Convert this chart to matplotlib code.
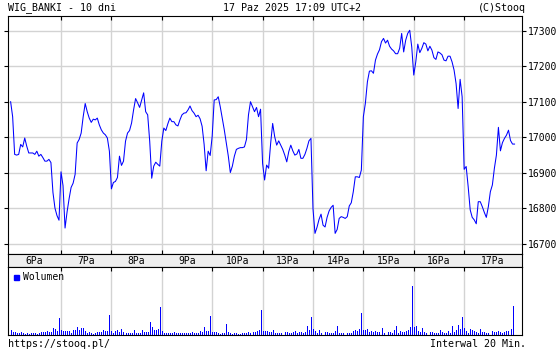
import numpy as np
import matplotlib
matplotlib.use("Agg")
import matplotlib.pyplot as plt

# notowania WIG_BANKI, interwal 20 min, po 25 punktow na sesje
p06 = [17100, 17058, 16952, 16950, 16952, 16980, 16973, 16998, 16975, 16956, 16956, 16956, 16952,
       16961, 16947, 16952, 16943, 16933, 16933, 16938, 16929, 16845, 16801, 16780, 16767]
p07 = [16903, 16864, 16745, 16790, 16827, 16859, 16871, 16896, 16984, 16994, 17012, 17058, 17095,
       17072, 17054, 17042, 17051, 17049, 17054, 17035, 17021, 17012, 17007, 16998, 16961]
p08 = [16855, 16873, 16876, 16887, 16947, 16921, 16933, 16989, 17012, 17019, 17040, 17077, 17109,
       17097, 17084, 17105, 17125, 17072, 17063, 16989, 16885, 16919, 16930, 16924, 16919]
p09 = [16989, 17026, 17019, 17038, 17054, 17044, 17044, 17035, 17032, 17049, 17063, 17068, 17069,
       17077, 17088, 17075, 17068, 17058, 17062, 17052, 17031, 16980, 16906, 16961, 16949]
p10 = [17003, 17105, 17106, 17114, 17086, 17054, 17021, 16984, 16947, 16901, 16919, 16947, 16966,
       16969, 16971, 16971, 16973, 16994, 17063, 17100, 17086, 17072, 17084, 17058, 17079]
p13 = [16927, 16880, 16922, 16913, 16983, 17039, 17002, 16978, 16990, 16978, 16966, 16950, 16931,
       16960, 16978, 16962, 16950, 16953, 16966, 16941, 16941, 16952, 16969, 16990, 16997]
p14 = [16800, 16730, 16747, 16769, 16784, 16753, 16748, 16775, 16793, 16803, 16809, 16730, 16741,
       16772, 16777, 16775, 16772, 16777, 16807, 16816, 16847, 16889, 16889, 16887, 16908]
p15 = [17058, 17096, 17156, 17186, 17187, 17180, 17217, 17234, 17246, 17269, 17278, 17265, 17273,
       17256, 17248, 17243, 17235, 17235, 17250, 17292, 17240, 17273, 17292, 17301, 17254]
p16 = [17175, 17212, 17262, 17238, 17250, 17266, 17262, 17243, 17256, 17245, 17224, 17219, 17240,
       17237, 17232, 17217, 17215, 17228, 17228, 17212, 17189, 17151, 17081, 17163, 17114]
p17 = [16910, 16918, 16861, 16796, 16775, 16768, 16757, 16819, 16819, 16805, 16789, 16775, 16805,
       16847, 16866, 16913, 16950, 17028, 16962, 16985, 16997, 17006, 17020, 16991, 16981, 16981]

# wolumen (jednostki umowne)
v06 = [15, 9, 9, 6, 6, 9, 6, 3, 6, 2, 6, 6, 6, 3, 6, 9, 9, 9, 12, 9, 9, 21, 18, 12, 51]
v07 = [15, 12, 12, 12, 12, 6, 15, 15, 24, 15, 21, 21, 12, 6, 9, 6, 3, 6, 9, 9, 9, 15, 12, 12, 60]
v08 = [12, 6, 12, 15, 9, 18, 9, 6, 6, 6, 6, 15, 6, 6, 6, 15, 9, 9, 9, 39, 24, 15, 15, 18, 84]
v09 = [12, 6, 6, 6, 6, 6, 9, 6, 6, 6, 6, 6, 6, 6, 6, 9, 6, 6, 6, 12, 9, 24, 12, 12, 57]
v10 = [9, 9, 9, 6, 3, 6, 6, 33, 9, 6, 3, 6, 6, 3, 3, 6, 6, 6, 9, 6, 9, 9, 12, 15, 75]
v13 = [12, 12, 12, 9, 9, 15, 6, 6, 6, 6, 0, 9, 9, 6, 6, 9, 12, 6, 9, 9, 6, 9, 27, 15, 54]
v14 = [18, 12, 6, 15, 6, 0, 9, 9, 6, 6, 6, 12, 27, 6, 6, 6, 0, 6, 6, 6, 12, 15, 12, 18, 66]
v15 = [15, 15, 18, 9, 12, 9, 12, 9, 9, 21, 6, 0, 9, 9, 6, 15, 27, 6, 12, 9, 9, 12, 15, 24, 147]
v16 = [24, 27, 12, 9, 21, 9, 6, 0, 9, 9, 6, 6, 6, 15, 9, 6, 6, 12, 6, 27, 9, 15, 30, 18, 54]
v17 = [21, 12, 6, 18, 15, 12, 9, 6, 18, 9, 9, 6, 6, 0, 12, 9, 9, 12, 9, 6, 9, 12, 12, 18, 87]

days = ['6Pa', '7Pa', '8Pa', '9Pa', '10Pa', '13Pa', '14Pa', '15Pa', '16Pa', '17Pa']
yticks = [16700, 16800, 16900, 17000, 17100, 17200, 17300]

price = np.array(p06 + p07 + p08 + p09 + p10 + p13 + p14 + p15 + p16 + p17)
vol = np.array(v06 + v07 + v08 + v09 + v10 + v13 + v14 + v15 + v16 + v17)
N = 25
xlo, xhi = -1.3, 253.7
bounds = [N * k for k in range(1, len(days))]

W, H = 560, 350
fig = plt.figure(figsize=(W / 100, H / 100), dpi=100)
mono = 'DejaVu Sans Mono'
blue = '#0000ff'
grid = '#d3d3d3'

def box(l, t, r, b):
    return [l / W, 1 - b / H, (r - l) / W, (b - t) / H]

ax = fig.add_axes(box(8, 16, 522, 254))
strip = fig.add_axes(box(8, 254, 522, 267))
axv = fig.add_axes(box(8, 267, 522, 335))

# wykres glowny
ax.plot(np.arange(len(price)), price, color=blue, lw=0.75)
ax.set_xlim(xlo, xhi)
ax.set_ylim(16672, 17341)
ax.set_yticks(yticks)
ax.set_xticks(bounds)
ax.set_xticklabels([])
for y in yticks:
    ax.axhline(y, color=grid, lw=1.0, zorder=0)
for x in bounds:
    ax.axvline(x, color=grid, lw=1.0, zorder=0)
ax.tick_params(axis='x', direction='in', top=True, bottom=True, length=3, width=0.8)
ax.tick_params(axis='y', direction='out', left=True, right=True, labelleft=False,
               labelright=True, length=3, width=0.8, labelsize=7, pad=1.5)
for lab in ax.get_yticklabels():
    lab.set_fontfamily(mono)

# pasek z datami
strip.set_facecolor('#eeeeee')
strip.set_xlim(xlo, xhi)
strip.set_ylim(0, 1)
strip.set_xticks([])
strip.set_yticks([])
edges = [xlo] + bounds + [xhi]
for k, d in enumerate(days):
    strip.text((edges[k] + edges[k + 1]) / 2, 0.45, d, ha='center', va='center',
               fontsize=7, family=mono)

# wolumen
axv.vlines(np.arange(len(vol)), 0, vol, colors=blue, lw=0.55, antialiased=False)
axv.set_xlim(xlo, xhi)
axv.set_ylim(0, 204)
axv.set_yticks([])
axv.set_xticks(bounds)
axv.set_xticklabels([])
axv.tick_params(axis='x', direction='in', top=True, bottom=False, length=3, width=0.8)
for x in bounds:
    axv.axvline(x, color=grid, lw=1.0, zorder=0)
fig.patches.append(plt.Rectangle((14 / W, 1 - 280 / H), 5 / W, 5 / H,
                                 color=blue, transform=fig.transFigure))
fig.text(23 / W, 1 - 277 / H, 'Wolumen', fontsize=7, family=mono, va='center')

for a in (ax, strip, axv):
    for s in a.spines.values():
        s.set_linewidth(0.8)

# naglowek i stopka
fig.text(8 / W, 1 - 8 / H, 'WIG_BANKI - 10 dni', fontsize=7.2, family=mono, va='center')
fig.text(292 / W, 1 - 8 / H, '17 Paz 2025 17:09 UTC+2', fontsize=7.2, family=mono,
         va='center', ha='center')
fig.text(526 / W, 1 - 8 / H, '(C)Stooq', fontsize=7.2, family=mono, va='center', ha='right')
fig.text(8 / W, 1 - 344 / H, 'https://stooq.pl/', fontsize=7.2, family=mono, va='center')
fig.text(526 / W, 1 - 344 / H, 'Interwal 20 Min.', fontsize=7.2, family=mono, va='center',
         ha='right')

fig.savefig('out.png', dpi=100)
